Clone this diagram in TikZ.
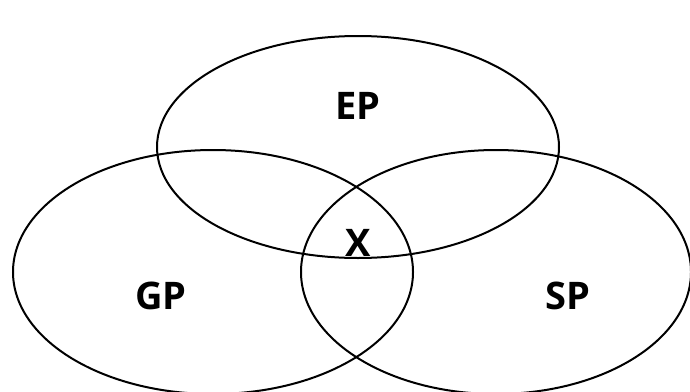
\documentclass[tikz,border=0pt]{standalone}
\usepackage{fontspec}
\setmainfont{Open Sans}
\begin{document}
\begin{tikzpicture}[x=1pt,y=-1pt,
  setline/.style={draw=black,line width=2pt},
  lbl/.style={font=\bfseries\fontsize{38}{44}\selectfont,inner sep=0pt}]
\useasboundingbox (0,0) rectangle (690,391);
\begin{scope}
\clip (0,0) rectangle (690,391);
\draw[setline] (358,147) ellipse [x radius=201, y radius=111];
\draw[setline] (213,272) ellipse [x radius=200, y radius=122];
\draw[setline] (496,272) ellipse [x radius=195, y radius=122];
\end{scope}
\node[lbl] (ep) at (358,106) {EP};
\node[lbl] (gp) at (161,296) {GP};
\node[lbl] (sp) at (568,296) {SP};
\node[lbl] (x) at (358,243) {X};
\end{tikzpicture}
\end{document}
